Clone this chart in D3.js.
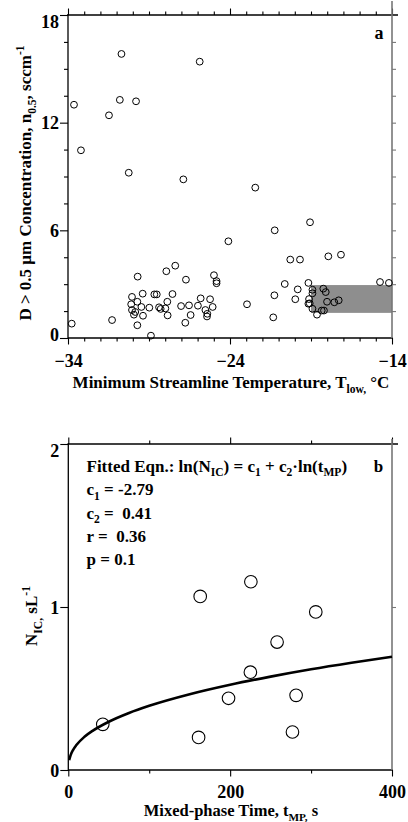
<!DOCTYPE html>
<html><head><meta charset="utf-8">
<script src="https://cdn.jsdelivr.net/npm/d3@7"></script>
<style>
body{margin:0;background:#fff}
text{font-family:"Liberation Serif","Times New Roman",serif;font-weight:bold;fill:#000}
</style>
</head><body>
<svg id="c" width="408" height="822"></svg>
<script>
// ---------- Panel a data ----------
const tempA = [-33.63,-33.2,-31.47,-30.8,-30.7,-29.8,-30.25,-26.88,-25.87,-22.44,
 -33.77,-31.28,-29.7,-30.05,-30.1,-29.72,-30.05,-29.85,-29.93,-29.39,-29.47,-29.37,-29.72,
 -28.98,-28.88,-28.67,-28.52,-28.38,-28.28,-27.93,-27.87,-27.99,-27.85,-27.55,-27.38,-27.02,
 -26.76,-26.72,-26.53,-26.43,-25.98,-25.81,-25.52,-25.42,-25.4,-25.23,-25.07,-24.99,-24.83,-24.83,
 -24.1,-22.95,-21.33,-21.26,-21.24,-20.62,-20.28,-19.97,-19.82,-19.68,-19.16,-19.12,-19.16,-19.08,
 -19.06,-18.91,-18.91,-18.91,-18.63,-18.34,-18.2,-18.24,-18.09,-18.01,-17.93,-17.56,-17.29,-17.15,
 -14.74,-14.19];
const concA = [13.0,10.46,12.41,13.27,15.83,13.19,9.21,8.84,15.4,8.38,
 0.8,1.0,3.42,2.29,1.88,2.02,1.56,1.45,1.3,2.47,1.73,1.24,0.71,
 1.69,0.13,2.43,2.43,1.71,1.62,3.72,2.02,1.65,1.26,2.45,4.03,1.78,
 0.85,3.25,1.82,1.28,1.8,2.21,1.56,1.2,1.35,2.16,1.73,3.5,3.17,3.05,
 5.39,1.88,1.15,2.38,6.0,3.01,4.37,2.16,2.71,4.37,3.07,2.17,1.91,1.93,
 6.45,2.69,2.49,1.63,1.3,1.53,1.53,2.75,2.56,2.02,4.55,1.99,2.1,4.64,
 3.12,3.07];
const shadeT = [-19, -14];
const shadeN = [1.4, 2.95];
const xTicksA = [-34, -24, -14];
const yTicksA = [0, 6, 12, 18];

// ---------- Panel b data ----------
const tMP = [42.6, 161, 163, 198, 225, 225.6, 258, 277, 281.5, 305.8];
const nIC = [0.28, 0.20, 1.065, 0.44, 0.60, 1.155, 0.785, 0.233, 0.458, 0.97];
const fitT = [1, 3, 6, 10, 20, 30, 50, 75, 100, 150, 200, 250, 300, 350, 400];
const fitN = [0.06, 0.093, 0.124, 0.153, 0.204, 0.24, 0.296, 0.35, 0.394, 0.465, 0.523, 0.573, 0.618, 0.658, 0.695];
const xTicksB = [0, 200, 400];
const yTicksB = [0, 1, 2];
const fitLines = [
  [["Fitted Eqn.: ln(N",""],["IC","sub"],[") = c",""],["1","sub"],[" + c",""],["2","sub"],["·ln(t",""],["MP","sub"],[")",""]],
  [["c",""],["1","sub"],[" = -2.79",""]],
  [["c",""],["2","sub"],[" =  0.41",""]],
  [["r =  0.36",""]],
  [["p = 0.1",""]]
];

const svg = d3.select("#c");
const FS = 18;

function rich(t, parts, fs){
  let off = 0;
  parts.forEach(([s,k])=>{
    const sp = t.append("tspan").text(s).attr("xml:space","preserve");
    let target = 0;
    if(k==="sub"){ target = fs*0.28; sp.attr("font-size", fs*0.68); }
    else if(k==="sup"){ target = -fs*0.42; sp.attr("font-size", fs*0.68); }
    sp.attr("dy", target-off);
    off = target;
  });
  return t;
}

function frame(g, x, y, opts){
  const [x0,x1] = x.range(), [y0,y1] = y.range(); // y0 bottom, y1 top
  g.append("g").attr("transform",`translate(0,${y1})`)
    .call(d3.axisTop(x).tickValues(opts.xMinor).tickSize(3.5).tickFormat(""))
    .call(s=>s.select(".domain").remove());
  g.append("g").attr("transform",`translate(0,${y1})`)
    .call(d3.axisTop(x).tickValues(opts.xMajor).tickSize(6.5).tickFormat(""))
    .call(s=>s.select(".domain").remove());
  g.append("g").attr("transform",`translate(0,${y0})`)
    .call(d3.axisBottom(x).tickValues(opts.xMinor).tickSize(3.5).tickFormat(""))
    .call(s=>s.select(".domain").remove());
  const bx = g.append("g").attr("transform",`translate(0,${y0})`)
    .call(d3.axisBottom(x).tickValues(opts.xMajor).tickSize(6.5).tickFormat(d3.format("d")))
    .call(s=>s.select(".domain").remove());
  bx.selectAll("text").attr("y", opts.xLabOff).attr("dy",0).attr("font-size",FS)
    .style("font-family",'"Liberation Serif",serif').style("font-weight","bold").attr("fill","#000");
  g.append("g").attr("transform",`translate(${x0},0)`)
    .call(d3.axisLeft(y).tickValues(opts.yMinor).tickSize(4).tickFormat(""))
    .call(s=>s.select(".domain").remove());
  const ly = g.append("g").attr("transform",`translate(${x0},0)`)
    .call(d3.axisLeft(y).tickValues(opts.yMajor).tickSize(8).tickFormat(d3.format("d")))
    .call(s=>s.select(".domain").remove());
  ly.selectAll("text").attr("x",-9).attr("dy","0.35em").attr("font-size",FS)
    .style("font-family",'"Liberation Serif",serif').style("font-weight","bold").attr("fill","#000")
    .attr("transform", d => { const p = y(d); const c = Math.min(Math.max(p, y1+6.5), y0-opts.bottomLift); return `translate(0,${c-p})`; });
  g.selectAll(".tick line").attr("stroke","#000").attr("stroke-width",1.1);
  g.append("g").attr("transform",`translate(${x1},0)`)
    .call(d3.axisRight(y).tickValues(opts.yRight).tickSize(4).tickFormat(""))
    .call(s=>s.select(".domain").remove())
    .selectAll("line").attr("stroke","#777").attr("stroke-width",1.1);
  g.append("line").attr("x1",x0-0.5).attr("x2",x1+6).attr("y1",y1).attr("y2",y1).attr("stroke","#000").attr("stroke-width",1.3);
  g.append("line").attr("x1",x0).attr("x2",x1+1).attr("y1",y0).attr("y2",y0).attr("stroke","#000").attr("stroke-width",1.3);
  g.append("line").attr("x1",x0).attr("x2",x0).attr("y1",y1-1).attr("y2",y0+1).attr("stroke","#000").attr("stroke-width",1.3);
  g.append("line").attr("x1",x1).attr("x2",x1).attr("y1",y1-opts.rightExt).attr("y2",y0).attr("stroke","#777").attr("stroke-width",1.6);
}

// ---------- Panel a ----------
const xA = d3.scaleLinear().domain([-34,-14]).range([68,392]);
const yA = d3.scaleLinear().domain([0,18]).range([338,15]);
const gA = svg.append("g");
gA.append("rect")
  .attr("x", xA(shadeT[0])).attr("width", xA(shadeT[1])-xA(shadeT[0]))
  .attr("y", yA(shadeN[1])).attr("height", yA(shadeN[0])-yA(shadeN[1]))
  .attr("fill","#8e8e8e");
frame(gA, xA, yA, {
  xMajor: xTicksA, xMinor: d3.range(-34,-13,1).filter(v=>!xTicksA.includes(v)),
  yMajor: yTicksA, yMinor: d3.range(0,18.1,1.5).filter(v=>!yTicksA.includes(v)),
  yRight: d3.range(1.5,18,1.5), xLabOff: 28.5, bottomLift: 4, rightExt: 14
});
gA.append("g").selectAll("circle").data(tempA.map((t,i)=>[t,concA[i]])).join("circle")
  .attr("cx",d=>xA(d[0])).attr("cy",d=>yA(d[1])).attr("r",3.4)
  .attr("fill","none").attr("stroke","#000").attr("stroke-width",1);
gA.append("text").attr("x",379).attr("y",39).attr("text-anchor","middle").attr("font-size",FS).text("a");
rich(gA.append("text").attr("transform","translate(31,183) rotate(-90)").attr("text-anchor","middle").attr("font-size",17),
  [["D > 0.5 μm Concentration, n",""],["0.5","sub"],[", sccm",""],["-1","sup"]], 17);
rich(gA.append("text").attr("x",231).attr("y",388).attr("text-anchor","middle").attr("font-size",17),
  [["Minimum Streamline Temperature, T",""],["low,","sub"],[" °C",""]], 17);

// ---------- Panel b ----------
const xB = d3.scaleLinear().domain([0,400]).range([68.3,392]);
const yB = d3.scaleLinear().domain([0,2]).range([770,444]);
const gB = svg.append("g");
frame(gB, xB, yB, {
  xMajor: xTicksB, xMinor: [100,300],
  yMajor: yTicksB, yMinor: [],
  yRight: [1], xLabOff: 27.5, bottomLift: -3, rightExt: 5
});
gB.append("path").datum(fitT.map((t,i)=>[t,fitN[i]]))
  .attr("d", d3.line().x(d=>xB(d[0])).y(d=>yB(d[1])).curve(d3.curveMonotoneX))
  .attr("fill","none").attr("stroke","#000").attr("stroke-width",2.6);
gB.append("g").selectAll("circle").data(tMP.map((t,i)=>[t,nIC[i]])).join("circle")
  .attr("cx",d=>xB(d[0])).attr("cy",d=>yB(d[1])).attr("r",6.3)
  .attr("fill","none").attr("stroke","#000").attr("stroke-width",1.1);
const baseY = [471.5, 495, 518.5, 541.5, 565];
fitLines.forEach((ln,i)=>{
  rich(gB.append("text").attr("x",86.5).attr("y",baseY[i]).attr("font-size",17), ln, 17);
});
gB.append("text").attr("x",378.5).attr("y",471.5).attr("text-anchor","middle").attr("font-size",17).text("b");
rich(gB.append("text").attr("transform","translate(37,616) rotate(-90)").attr("text-anchor","middle").attr("font-size",17),
  [["N",""],["IC,","sub"],[" sL",""],["-1","sup"]], 17);
rich(gB.append("text").attr("x",231).attr("y",816).attr("text-anchor","middle").attr("font-size",16.5),
  [["Mixed-phase Time, t",""],["MP,","sub"],[" s",""]], 16.5);
</script>
</body></html>
